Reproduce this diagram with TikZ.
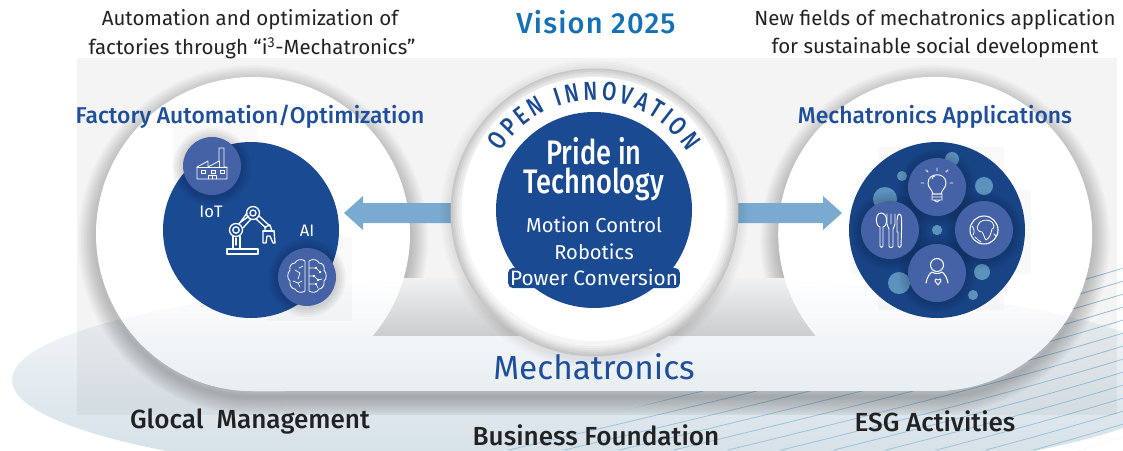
\documentclass[tikz,border=0pt]{standalone}
\usepackage{fontspec}
\usetikzlibrary{decorations.text}
\setmainfont{Fira Sans}
\newfontfamily\din[FakeStretch=0.8]{Fira Sans Medium}
\newfontfamily\med{Fira Sans Medium}
\newfontfamily\medwide[LetterSpace=4]{Fira Sans Medium}
\definecolor{navy}{HTML}{1A4A92}
\definecolor{disc}{HTML}{4462A5}
\definecolor{teal}{HTML}{5B93BD}
\definecolor{arrowblue}{HTML}{7AAACF}
\definecolor{head}{HTML}{1F4F9A}
\definecolor{vision}{HTML}{1670B5}
\definecolor{ink}{HTML}{222222}
\definecolor{hatch}{HTML}{9CC3DB}
\definecolor{groundtop}{HTML}{F8FAFB}
\definecolor{groundlow}{HTML}{D0DDE5}
\definecolor{tintlow}{HTML}{D6E0E6}
\definecolor{notchtop}{HTML}{F0F1F2}
\definecolor{notchlow}{HTML}{C9CBCC}
\def\stadium{(253,391) arc[start angle=90,end angle=400.6,radius=157] -- (816,336) arc[start angle=139.4,end angle=450,radius=157] -- cycle}
\tikzset{
  x=0.75pt,y=-0.75pt,
  lbl/.style={inner sep=0pt,anchor=center,align=center},
  intro/.style={lbl,text=ink,font=\fontsize{15.35pt}{17pt}\selectfont},
  heading/.style={lbl,text=head,font=\med\fontsize{17.15pt}{20pt}\selectfont},
  foot/.style={lbl,text=ink,font=\med\fontsize{19.6pt}{22pt}\selectfont},
  core/.style={lbl,text=white,font=\fontsize{15.1pt}{17pt}\selectfont},
  pride/.style={lbl,text=white,font=\din\fontsize{25.5pt}{30pt}\selectfont},
  icon/.style={draw=white,line width=0.7pt,line join=round,line cap=round},
  dot/.style={fill=teal},
  block/.style={fill=black,opacity=0.025},
}
\begin{document}
\begin{tikzpicture}
\useasboundingbox (0,0) rectangle (1123,450);
\clip (0,0) rectangle (1123,450);
\fill[white] (0,0) rectangle (1123,450);
% ground ellipse
\shade[top color=groundtop,bottom color=groundlow] (600,380) ellipse [x radius=588,y radius=105];
% hatch lines
\begin{scope}
\clip (470,450) -- (700,391) -- (1000,300) -- (1123,268) -- (1123,450) -- cycle;
\foreach \c in {0,13,...,429}{
  \draw[hatch,line width=0.6pt] (500,{400+\c}) .. controls (800,{330+\c}) and (1000,{280+\c}) .. (1130,{240+\c});
}
\end{scope}
\fill[white,opacity=.9] (1123,436) .. controls (1100,440) and (1070,446) .. (1050,450) -- (1123,450) -- cycle;
% pale panel
\fill[black,opacity=0.045] (77,58) rectangle (1117,415);
% big shape shadow
\foreach \w in {3,6,...,36}{
  \draw[black,opacity=0.02,line width=\w*0.75pt,line join=round,yshift=-4.5pt] \stadium;
}
\shade[top color=notchtop,bottom color=notchlow] (360,278) rectangle (830,338);
\fill[white] \stadium;
\begin{scope}
\clip \stadium;
\shade[top color=white,bottom color=tintlow] (600,380) ellipse [x radius=588,y radius=105];
\end{scope}
% faint blocks
\fill[block] (173,126) rectangle (257,209);
\fill[block] (268,237) rectangle (352,321);
\fill[block] (851,190) rectangle (1031,274);
\fill[block] (878,147) rectangle (1004,310);
% arrows
\fill[arrowblue] (344,213) -- (363,196) -- (363,203) -- (470,203) -- (470,223) -- (363,223) -- (363,230) -- cycle;
\fill[arrowblue] (842,213) -- (823,196) -- (823,203) -- (720,203) -- (720,223) -- (823,223) -- (823,230) -- cycle;
% centre ring
\foreach \w in {2,4,...,10}{\fill[black,opacity=0.015] (594.5,214) circle [radius=144+\w];}
\fill[black!22] (594.5,212.5) circle [radius=144];
\foreach \r/\g in {142/18,140/14,138/10,136/7,134/4}{\fill[black!\g] (594.5,212) circle [radius=\r];}
\fill[white] (594,209) circle [radius=132];
\fill[navy] (594,210) circle [radius=98];
\path[decorate,decoration={text along path,text align=fit to path,
  text={|\din\fontsize{19.5pt}{22pt}\selectfont\color{navy}|OPEN INNOVATION}}]
  (594,210) ++(212:110) arc[start angle=212,end angle=328,radius=110];
% left disc
\fill[navy] (251,230) circle [radius=88];
\foreach \w in {2,4,...,10}{
 \fill[black,opacity=0.03] (212,167) circle [radius=29+\w];
 \fill[black,opacity=0.03] (307,278) circle [radius=29+\w];
}
\fill[disc] (212,166) circle [radius=29];
\fill[disc] (307,277) circle [radius=29];
% factory icon
\draw[icon,line width=0.6pt] (197,179) -- (197,167) -- (208,161) -- (208,167) -- (219,161) -- (219,148) -- (224,148) -- (224,167) -- (227,167) -- (227,179) -- cycle;
\draw[icon,line width=0.6pt] (197,167) -- (227,167) (219,161) -- (219,167);
\draw[icon,line width=0.6pt] (201,170) rectangle (205,173) (211,170) rectangle (215,173) (220,170) rectangle (224,173) (208,179) -- (208,175) -- (216,175) -- (216,179) (212,175) -- (212,179);
% robot icon
\draw[icon,line width=1pt] (227,249) rectangle (258,254) (233,249) -- (233,236) (240,249) -- (240,236) (236,238) -- (236,245);
\draw[icon,line width=1pt] (236,230) circle [radius=6.5] (236,230) circle [radius=3.2] (253,213) circle [radius=6.5] (253,213) circle [radius=3];
\draw[icon,line width=1pt] (239,224) -- (247,213) (243,228) -- (251,219) (241,222) -- (249,216);
\draw[icon,line width=1pt] (259,216) -- (270,226) (256,219) -- (266,228);
\draw[icon,line width=1pt] (265,231) -- (265,227) -- (270,225) -- (272,231) -- cycle (263,231) -- (263,243) -- (266,243) -- (267,236) -- (270,236) -- (273,243) -- (275,243) -- (274,231);
\draw[icon,line width=1pt] (263,231) -- (274,231);
% brain icon
\draw[icon,line width=0.6pt] (305,261) .. controls (301,258) and (296,260) .. (295,263) .. controls (291,263) and (289,267) .. (290,270) .. controls (287,273) and (287,279) .. (290,281) .. controls (289,285) and (292,289) .. (295,289) .. controls (297,293) and (302,293) .. (305,291) -- cycle;
\draw[icon,line width=0.6pt] (309,261) .. controls (313,258) and (318,260) .. (319,263) .. controls (323,263) and (325,267) .. (324,270) .. controls (327,273) and (327,279) .. (324,281) .. controls (325,285) and (322,289) .. (319,289) .. controls (317,293) and (312,293) .. (309,291) -- cycle;
\draw[icon,line width=0.5pt] (295,270) -- (300,273) -- (298,279) (303,266) -- (299,268) (293,281) -- (298,283) -- (302,281) (300,287) -- (298,283);
\draw[icon,line width=0.5pt] (309,268) -- (316,268) -- (320,272) (309,276) -- (314,276) -- (318,280) -- (322,279) (309,284) -- (316,284) -- (318,288);
\foreach \p in {(316,268),(320,272),(314,276),(318,280),(316,284)}{\fill[white] \p circle [radius=1.3];}
% right disc
\fill[navy!92!black] (937,230) circle [radius=88];
\foreach \a/\b/\r in {952/159/7,902/176/5,984/186/9,885/199/12,937/230/5,982/272/8,899/283/11,973/295/5}{\fill[dot] (\a,\b) circle [radius=\r];}
\foreach \p/\q in {937/187,890/230,984/230,937/273}{
 \foreach \w in {2,4,...,10}{\fill[black,opacity=0.03] (\p,\q+1) circle [radius=29+\w];}
}
\foreach \p/\q in {937/187,890/230,984/230,937/273}{\fill[disc] (\p,\q) circle [radius=29];}
\fill[dot] (937,230) circle [radius=5];
% bulb icon
\draw[icon,line width=0.7pt] (933,194) .. controls (932,189) and (928,188) .. (928,183) .. controls (928,172) and (946,172) .. (946,183) .. controls (946,188) and (942,189) .. (941,194) -- cycle;
\draw[icon,line width=0.7pt] (932,194) -- (942,194) -- (942,200) -- (932,200) -- cycle (932,197) -- (942,197) (934,200) -- (937,202) -- (940,200);
\draw[icon,line width=0.6pt] (924,183) -- (921,183) (950,183) -- (953,183) (928,172) -- (926,170) (946,172) -- (948,170) (937,168) -- (937,171) (932,179) .. controls (932,177) and (934,176) .. (935,176);
% cutlery icon
\draw[icon,line width=0.7pt] (881,213) .. controls (875,213) and (875,226) .. (880,227) -- (880,246) .. controls (880,248) and (883,248) .. (883,246) -- (883,227) .. controls (888,226) and (888,213) .. (881,213) -- cycle;
\draw[icon,line width=0.7pt] (887,214) -- (887,224) .. controls (887,227) and (889,227) .. (889,229) -- (889,246) .. controls (889,248) and (893,248) .. (893,246) -- (893,229) .. controls (893,227) and (895,227) .. (895,224) -- (895,214) (891,214) -- (891,224);
\draw[icon,line width=0.7pt] (899,214) .. controls (902,214) and (902,218) .. (901,246) .. controls (901,248) and (898,248) .. (898,246) -- (898,232) -- (897,232) -- (897,220) .. controls (897,217) and (898,214) .. (899,214) -- cycle;
% globe icon
\draw[icon,line width=0.8pt] (984,230) circle [radius=14];
\draw[icon,line width=0.6pt] (980,222) .. controls (984,219) and (989,220) .. (992,222) .. controls (994,225) and (995,228) .. (992,229) .. controls (991,233) and (990,238) .. (986,240) .. controls (984,238) and (984,234) .. (982,232) .. controls (978,232) and (976,228) .. (978,225) -- cycle;
\draw[icon,line width=0.6pt] (972,226) .. controls (974,228) and (975,232) .. (973,235) (975,237) .. controls (977,239) and (979,241) .. (981,242) (994,234) -- (996,236);
% person icon
\draw[icon,line width=0.8pt] (937,265) circle [radius=6.5];
\draw[icon,line width=0.8pt] (926,283) .. controls (927,277) and (930,273) .. (932,272) .. controls (935,274) and (939,274) .. (942,272) .. controls (945,274) and (947,278) .. (948,283);
\draw[icon,line width=0.7pt] (938,285) -- (935,281) .. controls (934,279) and (937,278) .. (938,280) .. controls (939,278) and (942,279) .. (941,281) -- cycle;
% texts
\node[intro] (introL1) at (250,20) {Automation and optimization of};
\node[intro] (introL2) at (252,48) {factories through “i\textsuperscript{3}-Mechatronics”};
\node[lbl,text=vision,font=\medwide\fontsize{21.8pt}{25pt}\selectfont] (vision) at (596,22) {Vision 2025};
\node[intro] (introR1) at (935,20) {New fields of mechatronics application};
\node[intro] (introR2) at (935,48) {for sustainable social development};
\node[heading] (headL) at (250,116.5) {Factory Automation/Optimization};
\node[heading] (headR) at (935,116.5) {Mechatronics Applications};
\node[lbl,text=white,font=\fontsize{12.5pt}{14pt}\selectfont] (iot) at (211,212) {IoT};
\node[lbl,text=white,font=\fontsize{12.5pt}{14pt}\selectfont] (ai) at (307,231) {AI};
\node[pride] (pride1) at (594,151) {Pride in};
\node[pride] (pride2) at (594,184.5) {Technology};
\node[core] (motion) at (594,225) {Motion Control};
\node[core] (robotics) at (594,252) {Robotics};
\node[core,fill=navy,rounded corners=4pt,inner xsep=1.5pt,inner ysep=1.5pt,font=\fontsize{15.6pt}{17pt}\selectfont] (power) at (594,278) {Power Conversion};
\node[lbl,text=head,font=\fontsize{25pt}{30pt}\selectfont] (mech) at (594,367) {Mechatronics};
\node[foot] (glocal) at (250,421) {Glocal\ \ Management};
\node[foot] (found) at (596,435) {Business Foundation};
\node[foot] (esg) at (935,421) {ESG Activities};
\end{tikzpicture}
\end{document}
